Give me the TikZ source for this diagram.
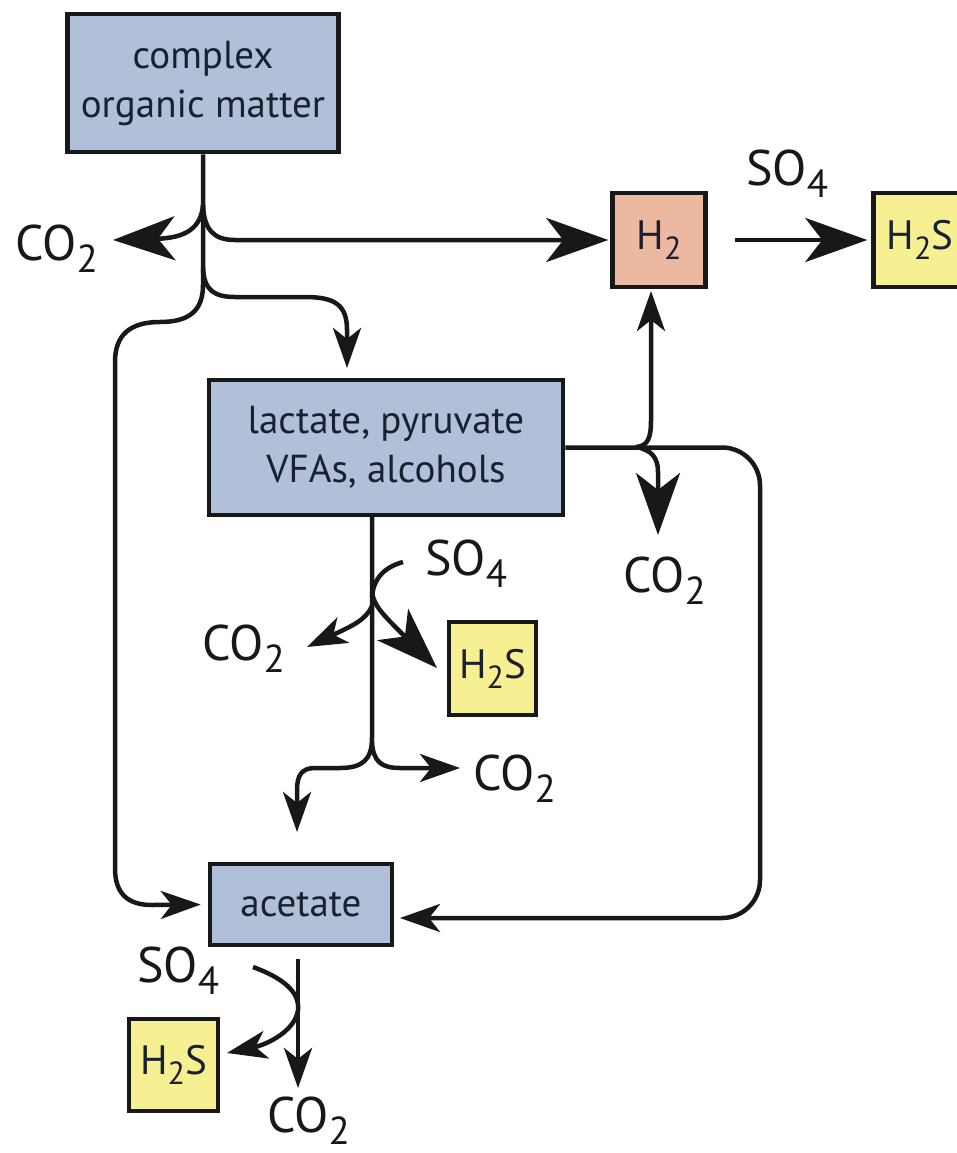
\documentclass[tikz,border=0pt]{standalone}
\usepackage{fontspec}
\setmainfont{PT Sans}
\usetikzlibrary{arrows.meta}
\definecolor{boxblue}{RGB}{176,192,216}
\definecolor{boxsalmon}{RGB}{236,184,160}
\definecolor{boxyellow}{RGB}{246,240,146}
\definecolor{ink}{RGB}{24,24,24}
\definecolor{boxtext}{RGB}{26,32,48}
\newcommand{\chsub}[1]{\raisebox{-0.24em}{\scalebox{0.78}{#1}}}
\begin{document}
\begin{tikzpicture}[x=1pt,y=-1pt,
  line/.style={line width=4.5pt, draw=ink},
  bigtip/.style={-{Stealth[length=62pt,width=44pt,inset=17pt]}},
  medtip/.style={-{Stealth[length=40pt,width=28pt,inset=11pt]}},
  box/.style={draw=ink, line width=4.5pt, inner sep=0pt, align=center, text=boxtext,
    font=\fontsize{39}{49}\selectfont},
  smallbox/.style={box, font=\fontsize{41}{41}\selectfont},
  lbl/.style={anchor=base west, inner sep=0pt, font=\fontsize{50}{50}\selectfont, text=ink}
]
\useasboundingbox (0,0) rectangle (956,1153);
\fill[white] (0,0) rectangle (956,1153);

% boxes
\node[box, fill=boxblue, minimum width=271pt, minimum height=138pt] (com) at (203,83) {complex\\organic matter};
\node[smallbox, fill=boxsalmon, minimum width=93pt, minimum height=94pt] (h2) at (659,240) {H\chsub{2}};
\node[smallbox, fill=boxyellow, minimum width=93pt, minimum height=94pt] (h2sa) at (920,240) {H\chsub{2}S};
\node[box, fill=boxblue, minimum width=354pt, minimum height=135pt] (lac) at (386,447.5) {lactate, pyruvate\\VFAs, alcohols};
\node[smallbox, fill=boxyellow, minimum width=87pt, minimum height=93pt] (h2sb) at (492.5,668.5) {H\chsub{2}S};
\node[box, fill=boxblue, minimum width=182pt, minimum height=81pt] (ace) at (301,904.5) {acetate};
\node[smallbox, fill=boxyellow, minimum width=89pt, minimum height=92pt] (h2sc) at (173.5,1065) {H\chsub{2}S};

% labels
\node[lbl] (co2a) at (15,260) {CO\chsub{2}};
\node[lbl] (so4a) at (746,185) {SO\chsub{4}};
\node[lbl] (co2b) at (623,592) {CO\chsub{2}};
\node[lbl] (so4b) at (425,575) {SO\chsub{4}};
\node[lbl] (co2c) at (202,660) {CO\chsub{2}};
\node[lbl] (co2d) at (473,790) {CO\chsub{2}};
\node[lbl] (so4c) at (137,982) {SO\chsub{4}};
\node[lbl] (co2e) at (267,1132) {CO\chsub{2}};

% junctions and free ends
\coordinate (ja) at (203,205);
\coordinate (jb) at (203,268);
\coordinate (co2atip) at (113,240);
\coordinate (lacin) at (347,368);
\coordinate (jl) at (636,447);
\coordinate (h2in) at (651,291);
\coordinate (co2btip) at (658,535);
\coordinate (ls) at (372,517);
\coordinate (so4bstart) at (403,562);
\coordinate (h2sbtip) at (437,668);
\coordinate (co2ctip) at (307,647);
\coordinate (acetop) at (297,832);
\coordinate (co2dtip) at (460,768);
\coordinate (acein) at (400,918);
\coordinate (acebot) at (298,1088);
\coordinate (so4cstart) at (253,967);
\coordinate (h2sctip) at (227,1053);

% from complex organic matter
\draw[line, medtip, shorten >=7pt] (com.south) -- (203,285) .. controls (203,310) and (190,322) .. (160,322)
  .. controls (130,322) and (115,335) .. (115,362) -- (115,868) .. controls (115,893) and (127,905) .. (152,905) -- (ace.west);
\draw[line, bigtip, shorten >=2pt] (ja) .. controls (204,230) and (214,240) .. (235,240) -- (h2.west);
\draw[line, bigtip] (ja) .. controls (201,228) and (186,238) .. (co2atip);
\draw[line, medtip] (jb) .. controls (204,290) and (214,297) .. (235,297) -- (305,297)
  .. controls (335,297) and (347,305) .. (347,330) -- (lacin);

% H2 -> H2S
\draw[line, bigtip, shorten <=27pt, shorten >=4pt] (h2.east) -- (h2sa.west);

% from lactate (right side)
\draw[line, medtip, rounded corners=38pt] (lac.east) -- (760,447.5) -- (760,918) -- (acein);
\draw[line, medtip] (jl) .. controls (648,446) and (651,438) .. (651,420) -- (h2in);
\draw[line, bigtip] (jl) .. controls (652,450) and (658,458) .. (658,472) -- (co2btip);

% from lactate (down)
\draw[line, medtip] (ls) -- (372,738) .. controls (372,760) and (362,768) .. (340,768) -- (315,768)
  .. controls (302,768) and (297,775) .. (297,790) -- (acetop);
\draw[line, medtip] (372,742) .. controls (373,762) and (382,768) .. (400,768) -- (co2dtip);
\draw[line] (so4bstart) .. controls (385,567) and (373,578) .. (372,598);
\draw[line, bigtip] (372,592) .. controls (374,605) and (380,612) .. (h2sbtip);
\draw[line, medtip] (372,606) .. controls (366,620) and (352,626) .. (co2ctip);

% from acetate
\draw[line, medtip, shorten <=12pt] (ace.south -| acebot) -- (acebot);
\draw[line, medtip] (so4cstart) .. controls (283,978) and (300,992) .. (298,1010)
  .. controls (295,1032) and (265,1045) .. (h2sctip);
\end{tikzpicture}
\end{document}
